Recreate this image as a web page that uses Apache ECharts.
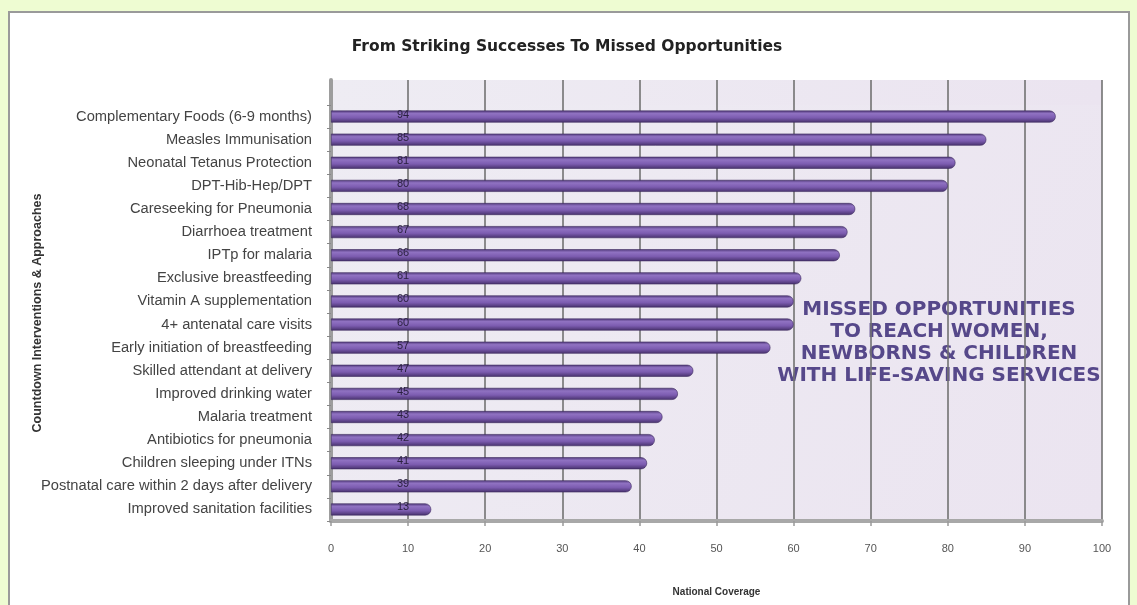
<!DOCTYPE html>
<html>
<head>
<meta charset="utf-8">
<script src="https://cdn.jsdelivr.net/npm/echarts@6/dist/echarts.min.js"></script>
<style>
  html, body { margin: 0; padding: 0; background: #eefcd2; }
  #panel { position: absolute; left: 8px; top: 11px; width: 1122px; height: 600px;
           background: #ffffff; border: 2px solid #9a9a9a; box-sizing: border-box; }
  #chart { position: absolute; left: 0; top: 0; width: 1137px; height: 605px; }
</style>
</head>
<body>
<div id="panel"></div>
<div id="chart"></div>
<script>
// Countdown interventions, top to bottom
const categories = [
  'Complementary Foods (6-9 months)',
  'Measles Immunisation',
  'Neonatal Tetanus Protection',
  'DPT-Hib-Hep/DPT',
  'Careseeking for Pneumonia',
  'Diarrhoea treatment',
  'IPTp for malaria',
  'Exclusive breastfeeding',
  'Vitamin A supplementation',
  '4+ antenatal care visits',
  'Early initiation of breastfeeding',
  'Skilled attendant at delivery',
  'Improved drinking water',
  'Malaria treatment',
  'Antibiotics for pneumonia',
  'Children sleeping under ITNs',
  'Postnatal care within 2 days after delivery',
  'Improved sanitation facilities'
];
// National coverage (%)
const coverage = [94, 85, 81, 80, 68, 67, 66, 61, 60, 60, 57, 47, 45, 43, 42, 41, 39, 13];
const xTicks = { min: 0, max: 100, interval: 10 };

const chart = echarts.init(document.getElementById('chart'), null, { renderer: 'canvas' });

const wallColor = {
  type: 'linear', x: 0, y: 0, x2: 1, y2: 1,
  colorStops: [{ offset: 0, color: '#eeecf3' }, { offset: 1, color: '#ebe4f0' }]
};
const barColor = {
  type: 'linear', x: 0, y: 0, x2: 0, y2: 1,
  colorStops: [
    { offset: 0, color: '#4f3878' },
    { offset: 0.25, color: '#9072c2' },
    { offset: 0.6, color: '#7c5cb0' },
    { offset: 1, color: '#46306b' }
  ]
};

chart.setOption({
  animation: false,
  title: {
    text: 'From Striking Successes To Missed Opportunities',
    left: 562, top: 34, textAlign: 'center',
    textStyle: { fontFamily: 'DejaVu Sans', fontSize: 15.5, fontWeight: 'bold', color: '#222' }
  },
  grid: [
    { left: 331, top: 80, width: 771, height: 25, show: true, backgroundColor: wallColor, borderWidth: 0 },
    { left: 331, top: 105, width: 771, height: 416, show: true, backgroundColor: wallColor, borderWidth: 0 }
  ],
  xAxis: [
    {
      gridIndex: 0, type: 'value', min: xTicks.min, max: xTicks.max, interval: xTicks.interval,
      axisLine: { show: false }, axisTick: { show: false }, axisLabel: { show: false },
      splitLine: { show: true, lineStyle: { color: '#727272', width: 1.6 } }
    },
    {
      gridIndex: 1, type: 'value', min: xTicks.min, max: xTicks.max, interval: xTicks.interval,
      name: 'National Coverage', nameLocation: 'middle', nameGap: 66,
      nameTextStyle: { fontFamily: 'Liberation Sans Narrow, Liberation Sans', fontSize: 10, fontWeight: 'bold', color: '#333' },
      axisLine: { show: true, lineStyle: { color: '#a8a8a8', width: 4 } },
      axisTick: { show: true, length: 5, lineStyle: { color: '#999', width: 1.5 } },
      axisLabel: { margin: 22, fontFamily: 'Liberation Sans', fontSize: 11, color: '#555' },
      splitLine: { show: true, lineStyle: { color: '#727272', width: 1.6 } }
    }
  ],
  yAxis: [
    {
      gridIndex: 0, type: 'value',
      axisLine: { show: true, lineStyle: { color: '#9d9d9d', width: 4 } },
      axisTick: { show: false }, axisLabel: { show: false }, splitLine: { show: false }
    },
    {
      gridIndex: 1, type: 'category', data: categories, inverse: true,
      name: 'Countdown Interventions & Approaches', nameLocation: 'middle', nameGap: 287,
      nameRotate: 90, nameMoveOverlap: false,
      nameTextStyle: { fontFamily: 'Liberation Sans Narrow, Liberation Sans', fontSize: 12.5, fontWeight: 'bold', color: '#333' },
      axisLine: { show: true, lineStyle: { color: '#9d9d9d', width: 4 } },
      axisTick: { show: true, length: 4, inside: false, lineStyle: { color: '#888' } },
      axisLabel: { margin: 19, fontFamily: 'Liberation Sans', fontSize: 14.7, color: '#444' },
      splitLine: { show: false }
    }
  ],
  series: [
    {
      type: 'bar', xAxisIndex: 1, yAxisIndex: 1,
      data: coverage, barWidth: 12,
      itemStyle: { color: barColor, borderRadius: [0, 6, 6, 0], borderColor: '#3d2a5e', borderWidth: 0.6 },
      label: {
        show: true, position: [72, 4], align: 'center', verticalAlign: 'middle',
        fontFamily: 'Liberation Sans', fontSize: 11, color: '#2a2040'
      }
    }
  ],
  graphic: [
    {
      type: 'text', position: [939, 299],
      style: {
        text: 'MISSED OPPORTUNITIES\nTO REACH WOMEN,\nNEWBORNS & CHILDREN\nWITH LIFE-SAVING SERVICES',
        x: 0, y: 0, align: 'center', lineHeight: 22,
        font: 'bold 20px "DejaVu Sans"', fill: '#56488a'
      }
    }
  ]
});
</script>
</body>
</html>
